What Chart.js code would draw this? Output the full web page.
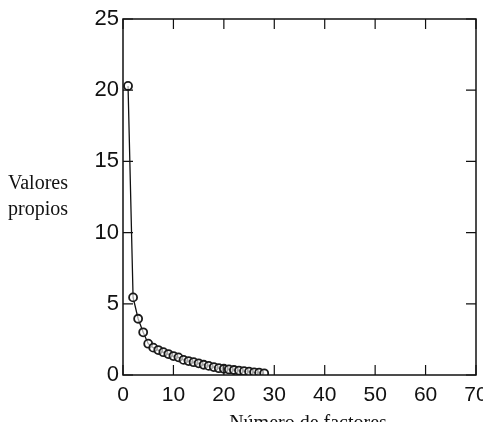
<!DOCTYPE html>
<html>
<head>
<meta charset="utf-8">
<script src="https://cdn.jsdelivr.net/npm/chart.js@4"></script>
<style>
  html, body { margin: 0; padding: 0; background: #fff; }
  canvas { display: block; }
</style>
</head>
<body>
<canvas id="grafico" width="483" height="422"></canvas>
<script>
// numero de factor y su valor propio
const factores = [1, 2, 3, 4, 5, 6, 7, 8, 9, 10, 11, 12, 13, 14, 15, 16, 17, 18, 19, 20, 21, 22, 23, 24, 25, 26, 27, 28];
const valoresPropios = [20.3, 5.45, 3.95, 3.0, 2.2, 1.92, 1.75, 1.6, 1.47, 1.33, 1.24, 1.06, 0.98, 0.9, 0.82, 0.72, 0.64, 0.56, 0.48, 0.44, 0.39, 0.35, 0.31, 0.27, 0.23, 0.19, 0.16, 0.12];
const ticksX = [0, 10, 20, 30, 40, 50, 60, 70];
const ticksY = [0, 5, 10, 15, 20, 25];

const tituloX = 'Número de factores';
const tituloY = ['Valores', 'propios'];

// marco y marcas hacia adentro, mas los titulos
const marco = {
  id: 'marco',
  afterDraw(chart) {
    const c = chart.ctx;
    const a = chart.chartArea;
    const sx = chart.scales.x, sy = chart.scales.y;
    const largo = 10;
    c.save();
    c.strokeStyle = '#111';
    c.lineWidth = 1.5;
    c.strokeRect(a.left, a.top, a.right - a.left, a.bottom - a.top);
    c.lineWidth = 1.2;
    c.beginPath();
    ticksX.forEach(v => {
      const px = sx.getPixelForValue(v);
      c.moveTo(px, a.bottom); c.lineTo(px, a.bottom - largo);
      c.moveTo(px, a.top); c.lineTo(px, a.top + largo);
    });
    ticksY.forEach(v => {
      const py = sy.getPixelForValue(v);
      c.moveTo(a.left, py); c.lineTo(a.left + largo, py);
      c.moveTo(a.right, py); c.lineTo(a.right - largo, py);
    });
    c.stroke();

    c.fillStyle = '#111';
    c.font = '20px "Liberation Serif", "DejaVu Serif", serif';
    c.textBaseline = 'alphabetic';
    c.textAlign = 'left';
    c.fillText(tituloY[0], 8, 189);
    c.fillText(tituloY[1], 8, 215);
    c.textAlign = 'center';
    c.fillText(tituloX, 308, 429);
    c.restore();
  }
};

const ctx = document.getElementById('grafico').getContext('2d');

const grafico = new Chart(ctx, {
  type: 'line',
  data: {
    datasets: [{
      data: factores.map((f, i) => ({ x: f, y: valoresPropios[i] })),
      borderColor: '#111',
      borderWidth: 1.3,
      backgroundColor: '#fff',
      pointStyle: 'circle',
      pointRadius: 4,
      pointBorderWidth: 1.8,
      pointBorderColor: '#1a1a1a',
      pointBackgroundColor: 'rgba(255,255,255,0.6)',
      tension: 0,
      fill: false
    }]
  },
  options: {
    responsive: false,
    animation: false,
    layout: { padding: { top: 19, right: 7, left: 0, bottom: 0 } },
    plugins: {
      legend: { display: false },
      tooltip: { enabled: false }
    },
    scales: {
      x: {
        type: 'linear',
        min: 0,
        max: 70,
        afterBuildTicks: s => { s.ticks = ticksX.map(v => ({ value: v })); },
        afterFit: s => { s.height = 47; s.paddingLeft = 0; s.paddingRight = 0; },
        grid: { display: false, drawTicks: false },
        border: { display: false },
        ticks: {
          maxRotation: 0,
          padding: 8,
          color: '#111',
          font: { family: '"Liberation Sans", Arial, sans-serif', size: 21 }
        }
      },
      y: {
        min: 0,
        max: 25,
        afterBuildTicks: s => { s.ticks = ticksY.map(v => ({ value: v })); },
        afterFit: s => { s.width = 123; s.paddingTop = 0; s.paddingBottom = 0; },
        grid: { display: false, drawTicks: false },
        border: { display: false },
        ticks: {
          padding: 4,
          color: '#111',
          font: { family: '"Liberation Sans", Arial, sans-serif', size: 22 }
        }
      }
    }
  },
  plugins: [marco]
});
</script>
</body>
</html>
